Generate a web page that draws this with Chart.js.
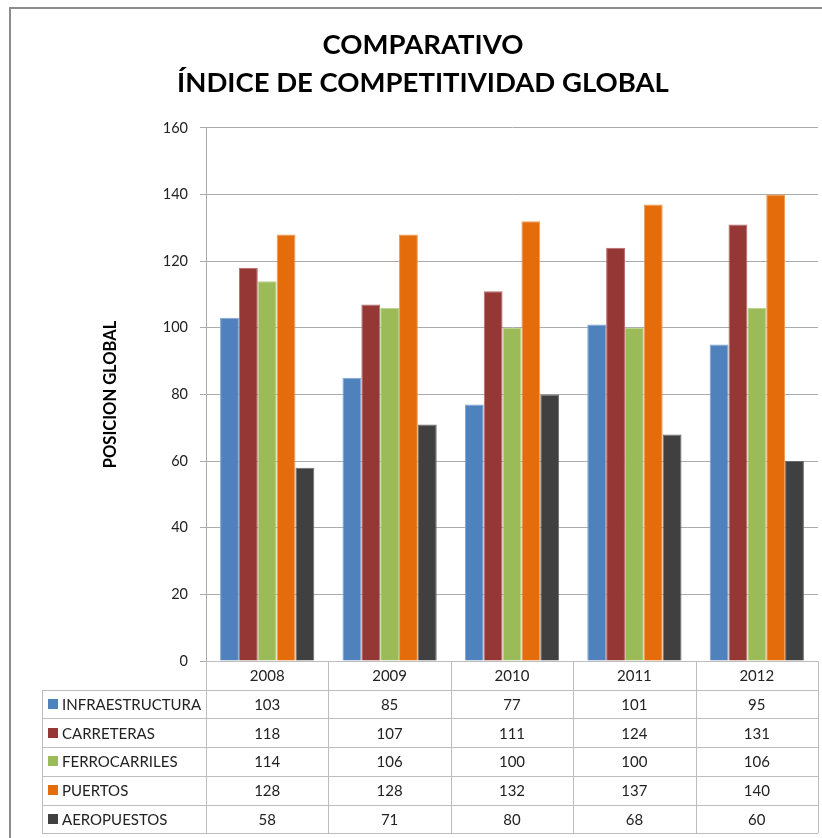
<!DOCTYPE html>
<html>
<head>
<meta charset="utf-8">
<script src="https://cdn.jsdelivr.net/npm/chart.js@4.4.1/dist/chart.umd.min.js"></script>
<style>
  html, body { margin: 0; padding: 0; background: #fff; }
</style>
</head>
<body>
<canvas id="c" width="822" height="838"></canvas>
<script>
// data
var years = ['2008', '2009', '2010', '2011', '2012'];
var seriesNames = ['INFRAESTRUCTURA', 'CARRETERAS', 'FERROCARRILES', 'PUERTOS', 'AEROPUESTOS'];
var infraestructura = [103, 85, 77, 101, 95];
var carreteras = [118, 107, 111, 124, 131];
var ferrocarriles = [114, 106, 100, 100, 106];
var puertos = [128, 128, 132, 137, 140];
var aeropuertos = [58, 71, 80, 68, 60];
var yMin = 0, yMax = 160, yStep = 20;

var colors = ['#4f81bd', '#953735', '#9bbb59', '#e46c0a', '#404040'];
var edges = ['#7fa3d0', '#b86a68', '#b8d08a', '#f09a55', '#6a6a6a'];
var values = [infraestructura, carreteras, ferrocarriles, puertos, aeropuertos];

var FONT = 'Lato';
var GRID = '#ababab';
var TABLE = '#bdbdbd';
var ROW_H = 28.7;

var datasets = seriesNames.map(function (name, i) {
  return {
    label: name,
    data: values[i],
    backgroundColor: colors[i],
    borderColor: edges[i],
    borderWidth: 1,
    borderSkipped: 'bottom',
    barPercentage: 1,
    categoryPercentage: 0.77
  };
});

// frame + data table under the plot
var tablePlugin = {
  id: 'dataTable',
  afterDraw: function (chart) {
    var ctx = chart.ctx;
    var area = chart.chartArea;
    var xs = chart.scales.x;
    var colW = (area.right - area.left) / years.length;
    var top = area.bottom;
    var labelLeft = 42;
    var bottom = top + ROW_H * (seriesNames.length + 1);

    ctx.save();
    // outer frame
    ctx.strokeStyle = '#8c8c8c';
    ctx.lineWidth = 2;
    ctx.beginPath();
    ctx.moveTo(10, 838);
    ctx.lineTo(10, 8);
    ctx.lineTo(822, 8);
    ctx.stroke();

    // table lines
    ctx.strokeStyle = TABLE;
    ctx.lineWidth = 1;
    ctx.beginPath();
    ctx.moveTo(area.left, top + 0.5);
    ctx.lineTo(area.right, top + 0.5);
    for (var r = 1; r <= seriesNames.length + 1; r++) {
      var y = Math.round(top + r * ROW_H) + 0.5;
      ctx.moveTo(labelLeft, y);
      ctx.lineTo(area.right, y);
    }
    ctx.moveTo(labelLeft + 0.5, Math.round(top + ROW_H));
    ctx.lineTo(labelLeft + 0.5, Math.round(bottom));
    for (var c = 0; c <= years.length; c++) {
      var x = Math.round(area.left + c * colW) + 0.5;
      ctx.moveTo(x, top);
      ctx.lineTo(x, Math.round(bottom));
    }
    ctx.stroke();

    // header + cells
    ctx.fillStyle = '#222';
    ctx.font = '15px ' + FONT;
    ctx.textAlign = 'center';
    ctx.textBaseline = 'middle';
    years.forEach(function (yr, i) {
      var cx = xs.getPixelForValue(i);
      ctx.fillText(yr, cx, top + ROW_H / 2 + 1);
      for (var s = 0; s < seriesNames.length; s++) {
        ctx.fillText(String(values[s][i]), cx, top + ROW_H * (s + 1.5) + 1);
      }
    });

    // legend keys + names
    ctx.textAlign = 'left';
    for (var s = 0; s < seriesNames.length; s++) {
      var cy = top + ROW_H * (s + 1.5);
      ctx.fillStyle = colors[s];
      ctx.fillRect(48, Math.round(cy - 5), 10, 10);
      ctx.fillStyle = '#222';
      ctx.fillText(seriesNames[s], 62, cy + 1);
    }
    ctx.restore();
  }
};

new Chart(document.getElementById('c'), {
  type: 'bar',
  data: { labels: years, datasets: datasets },
  plugins: [tablePlugin],
  options: {
    responsive: false,
    animation: false,
    layout: { padding: { left: 28, right: 4, top: 0, bottom: 177 } },
    plugins: {
      legend: { display: false },
      tooltip: { enabled: false },
      title: {
        display: true,
        text: ['COMPARATIVO', 'ÍNDICE DE COMPETITIVIDAD GLOBAL'],
        color: '#000',
        font: { family: FONT, size: 27.5, weight: 'bold', lineHeight: 1.38 },
        padding: { top: 26, bottom: 26 }
      }
    },
    scales: {
      x: { display: false },
      y: {
        min: yMin,
        max: yMax,
        ticks: { stepSize: yStep, color: '#222', padding: 12, font: { family: FONT, size: 14.5 } },
        grid: { color: GRID, tickLength: 6, tickColor: GRID },
        border: { color: GRID },
        title: {
          display: true,
          text: 'POSICION GLOBAL',
          color: '#000',
          font: { family: FONT, size: 16.5, weight: 'bold' },
          padding: { top: 73, bottom: 4 }
        },
        afterFit: function (scale) { scale.width = 178; }
      }
    }
  }
});
</script>
</body>
</html>
